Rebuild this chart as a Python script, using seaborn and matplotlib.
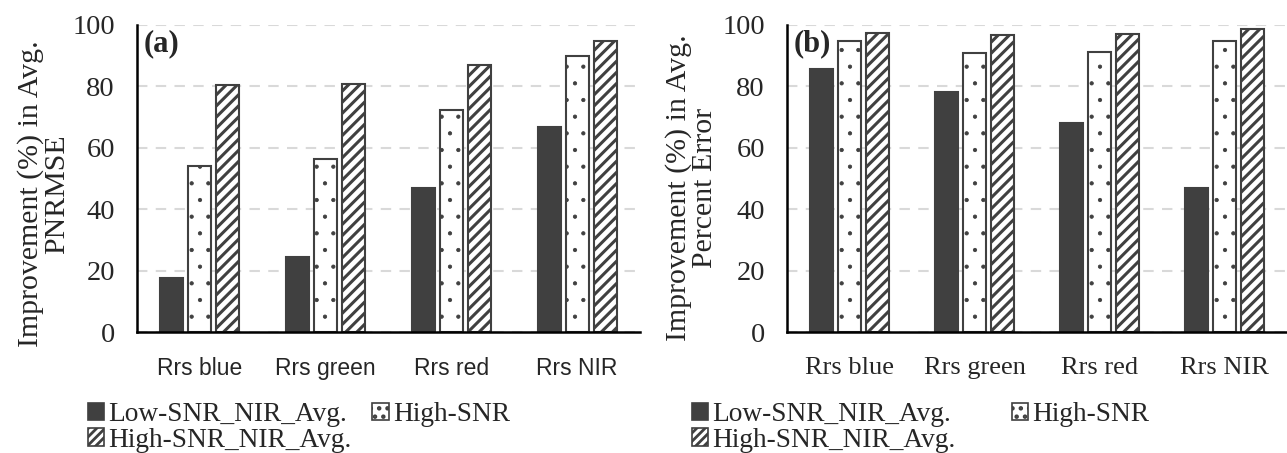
import matplotlib
matplotlib.use("Agg")
import matplotlib.pyplot as plt
import seaborn as sns
import pandas as pd
from matplotlib.patches import Patch

bands = ["Rrs blue", "Rrs green", "Rrs red", "Rrs NIR"]
methods = ["Low-SNR_NIR_Avg.", "High-SNR", "High-SNR_NIR_Avg."]

pnrmse_low = [17.7, 24.4, 46.9, 66.7]
pnrmse_high = [54.0, 56.4, 72.2, 89.9]
pnrmse_high_nir = [80.3, 80.8, 86.9, 94.8]

pe_low = [85.7, 78.3, 68.0, 47.0]
pe_high = [94.7, 91.0, 91.3, 94.7]
pe_high_nir = [97.5, 96.8, 97.0, 98.6]

ylabels = ["Improvement (%) in Avg.\nPNRMSE", "Improvement (%) in Avg.\nPercent Error"]
panel_tags = ["(a)", "(b)"]

DARK = "#404040"
styles = {
    "Low-SNR_NIR_Avg.": dict(facecolor=DARK, hatch=None, hlw=1.0),
    "High-SNR": dict(facecolor="white", hatch=".", hlw=0.6),
    "High-SNR_NIR_Avg.": dict(facecolor="white", hatch="///", hlw=2.2),
}

sns.set_theme(style="white")
plt.rcParams["font.family"] = ["Liberation Serif", "DejaVu Serif"]
plt.rcParams["hatch.linewidth"] = 2.0
plt.rcParams["hatch.color"] = DARK


def long_df(low, high, high_nir):
    rows = []
    for m, vals in zip(methods, [low, high, high_nir]):
        for b, v in zip(bands, vals):
            rows.append({"band": b, "method": m, "value": v})
    return pd.DataFrame(rows)


def style_patch(p, m, lw, hatch=None):
    p.set_facecolor(styles[m]["facecolor"])
    p.set_edgecolor(DARK)
    p.set_linewidth(lw)
    h = hatch if hatch is not None else styles[m]["hatch"]
    if h:
        p.set_hatch(h)
        if hasattr(p, "set_hatch_linewidth"):
            p.set_hatch_linewidth(styles[m]["hlw"])


fig = plt.figure(figsize=(12.87, 4.53), dpi=100)
ax_a = fig.add_axes([137 / 1287, 1 - 332 / 453, 503 / 1287, 307 / 453])
ax_b = fig.add_axes([787 / 1287, 1 - 332 / 453, 500 / 1287, 307 / 453])

datasets = [long_df(pnrmse_low, pnrmse_high, pnrmse_high_nir),
            long_df(pe_low, pe_high, pe_high_nir)]

for i, (ax, df) in enumerate(zip([ax_a, ax_b], datasets)):
    sns.barplot(data=df, x="band", y="value", hue="method", hue_order=methods,
                order=bands, width=0.668, gap=0.18, edgecolor=DARK, linewidth=1.4,
                palette=["white"] * 3, ax=ax, legend=False, errorbar=None)
    for cont, m in zip(ax.containers, methods):
        for p in cont.patches:
            style_patch(p, m, 1.5)
    ax.set_ylim(0, 100)
    ax.set_yticks(range(0, 101, 20))
    ax.set_axisbelow(True)
    ax.yaxis.grid(True, color="#d9d9d9", linestyle=(0, (5, 4)), linewidth=1.5)
    ax.xaxis.grid(False)
    for s in ["top", "right"]:
        ax.spines[s].set_visible(False)
    for s in ["left", "bottom"]:
        ax.spines[s].set_color("black")
        ax.spines[s].set_linewidth(1.8)
    ax.tick_params(axis="y", length=0, pad=16, labelsize=20.5)
    ax.tick_params(axis="x", length=0, pad=18)
    ax.set_xlabel("")
    ax.set_ylabel(ylabels[i], fontsize=21.5, linespacing=1.02)
    ax.text(0.014, 0.94, panel_tags[i], transform=ax.transAxes, fontsize=22,
            fontweight="bold", ha="left", va="center")

ax_a.yaxis.set_label_coords(-0.132, 0.45)
ax_b.yaxis.set_label_coords(-0.138, 0.47)

for lbl in ax_a.get_xticklabels():
    lbl.set_fontfamily(["Liberation Sans", "DejaVu Sans"])
    lbl.set_fontsize(16.5)
for lbl in ax_b.get_xticklabels():
    lbl.set_fontsize(19)


def handles():
    order = [methods[0], methods[2], methods[1]]
    legend_hatch = {methods[0]: None, methods[1]: "..", methods[2]: "////"}
    hs = []
    for m in order:
        h = Patch(label=m)
        style_patch(h, m, 1.2, hatch=legend_hatch[m])
        hs.append(h)
    return hs


for ax, x0, cs in [(ax_a, 88 / 1287, 0.75), (ax_b, 692 / 1287, 2.05)]:
    ax.legend(handles=handles(), loc="upper left", bbox_to_anchor=(x0, 1 - 402 / 453),
              bbox_transform=fig.transFigure, ncol=2, frameon=False, fontsize=19.7,
              handlelength=0.6, handleheight=0.6, handletextpad=0.15,
              columnspacing=cs, labelspacing=0.02, borderpad=0, borderaxespad=0)

fig.savefig("out.png", dpi=100)
